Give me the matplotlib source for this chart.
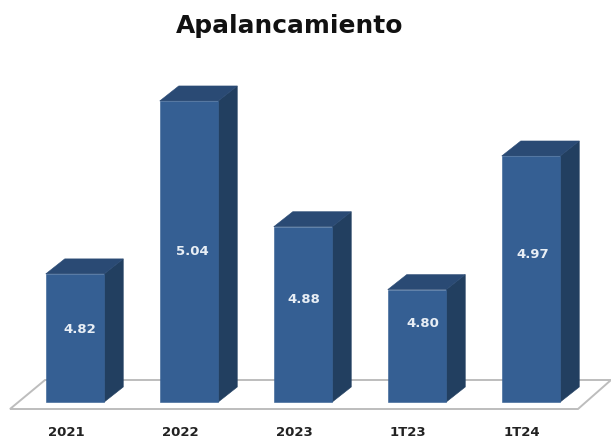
import matplotlib
matplotlib.use("Agg")
import matplotlib.pyplot as plt
from matplotlib.patches import Polygon, Rectangle

categories = ["2021", "2022", "2023", "1T23", "1T24"]
values = [4.82, 5.04, 4.88, 4.80, 4.97]
labels = ["4.82", "5.04", "4.88", "4.80", "4.97"]
title = "Apalancamiento"

W, H = 611, 445
plt.rcParams['font.family'] = ['DejaVu Sans']
fig = plt.figure(figsize=(W / 100, H / 100), dpi=100)
ax = fig.add_axes([0, 0, 1, 1])

# scales: one category = 114 px, one value unit = 786 px
ux, uy = 114.0, 786.0
x0_px, base_px, base_val = 75.0, 402.0, 4.657
ax.set_xlim(-x0_px / ux, (W - x0_px) / ux)
ax.set_ylim(base_val - (H - base_px) / uy, base_val + base_px / uy)
ax.axis("off")

bw = 58.5 / ux
dx, dy = 19 / ux, 15 / uy
FRONT, SIDE, TOP = "#355F93", "#223F60", "#2A4A74"
FLOOR = "#BDBDBD"

# label placement, px offset from each bar's front mid-height / centre
label_shift_y = [8, 0, 15, 22, 24]
label_shift_x = [5, 3, 1, 6, 2]

# floor plane
fl, fr = base_val - 7 / uy, base_val + 22 / uy
ax.add_patch(Polygon([(-65 / ux, fl), (503 / ux, fl), (536 / ux, fr), (-30 / ux, fr)],
                     closed=True, facecolor="white", edgecolor=FLOOR, linewidth=1.4, zorder=1))

for i, (v, lab, cat) in enumerate(zip(values, labels, categories)):
    l, r = i - bw / 2, i + bw / 2
    ax.add_patch(Polygon([(r, base_val), (r + dx, base_val + dy), (r + dx, v + dy), (r, v)],
                         closed=True, facecolor=SIDE, edgecolor=SIDE, linewidth=0.4, zorder=3))
    ax.add_patch(Polygon([(l, v), (r, v), (r + dx, v + dy), (l + dx, v + dy)],
                         closed=True, facecolor=TOP, edgecolor=TOP, linewidth=0.4, zorder=3))
    ax.add_patch(Rectangle((l, base_val), bw, v - base_val, facecolor=FRONT,
                           edgecolor=FRONT, linewidth=0.4, zorder=4))
    ax.text(i + label_shift_x[i] / ux, (v + base_val) / 2 + label_shift_y[i] / uy, lab,
            color="#E8EEF5", fontsize=9.5, fontweight="bold",
            ha="center", va="center", zorder=5)
    ax.text(i - 9 / ux, base_val - 31 / uy, cat, color="#222222", fontsize=9.5,
            fontweight="bold", ha="center", va="center", zorder=5)

ax.text(215 / ux, base_val + 376 / uy, title, color="#111111", fontsize=17.9,
        fontweight="bold", ha="center", va="center", zorder=5)

fig.savefig("out.png", dpi=100)
